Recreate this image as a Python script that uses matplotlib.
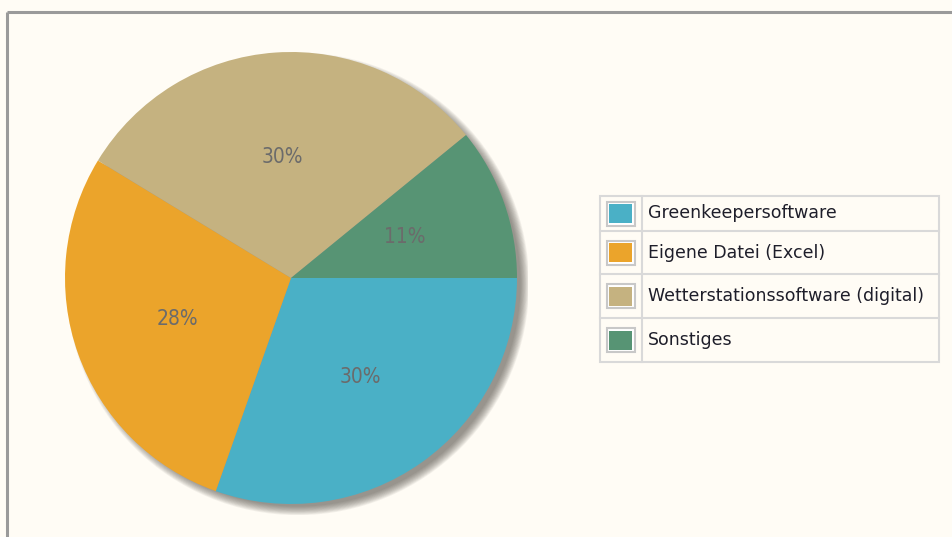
import matplotlib.pyplot as plt
from matplotlib.patches import Circle, Rectangle

labels = ['Greenkeepersoftware', 'Eigene Datei (Excel)',
          'Wetterstationssoftware (digital)', 'Sonstiges']
values = [30.4, 28.3, 30.4, 10.9]
colors = ['#4AB0C6', '#EBA42B', '#C5B280', '#579474']
bg = '#FFFCF5'

W, H = 953, 537
fig = plt.figure(figsize=(W / 100, H / 100), dpi=100)
fig.patch.set_facecolor(bg)

# overlay in pixel coords for the frame and legend
ov = fig.add_axes([0, 0, 1, 1])
ov.set_xlim(0, W)
ov.set_ylim(H, 0)
ov.axis('off')
ov.plot([7, W], [12, 12], color='#9A9A9A', lw=2.2, solid_capstyle='butt')
ov.plot([7, 7], [12, H], color='#9A9A9A', lw=2.2, solid_capstyle='butt')

# pie
cx, cy, r = 291, 278, 226
ax = fig.add_axes([(cx - r * 1.05) / W, (H - cy - r * 1.05) / H,
                   2.1 * r / W, 2.1 * r / H])
ax.axis('off')

# soft shadow at lower right
for i in range(12):
    ax.add_patch(Circle((0.03, -0.026), 0.985 + 0.0035 * i,
                        color='#55514A', alpha=0.07, lw=0, zorder=0))

wedges, texts, autotexts = ax.pie(
    values, colors=colors, startangle=0, counterclock=False,
    autopct='%.0f%%', pctdistance=0.535, radius=1.0,
    wedgeprops=dict(linewidth=0),
    textprops=dict(color='#6B6B6B', fontsize=15, fontstretch='condensed',
                   family='DejaVu Sans'))
for w in wedges:
    w.set_zorder(2)
for t in autotexts:
    t.set_zorder(3)
ax.set_xlim(-1.05, 1.05)
ax.set_ylim(-1.05, 1.05)

# legend table
lx0, lx1 = 600, 939
rows = [196, 231, 274, 318, 362]
sep_x = 642
lc = '#D9D9D9'
ov.add_patch(Rectangle((lx0, rows[0]), lx1 - lx0, rows[-1] - rows[0],
                       fill=False, ec=lc, lw=1.5))
for y in rows[1:-1]:
    ov.plot([lx0, lx1], [y, y], color=lc, lw=1.5)
ov.plot([sep_x, sep_x], [rows[0], rows[-1]], color=lc, lw=1.5)
for i, (lab, col) in enumerate(zip(labels, colors)):
    yc = (rows[i] + rows[i + 1]) / 2
    ov.add_patch(Rectangle((607, yc - 12), 28, 24, fc='white', ec='#C8C8C8', lw=1.5))
    ov.add_patch(Rectangle((609.5, yc - 9.5), 23, 19, fc=col, ec='none'))
    ov.text(648, yc, lab, fontsize=12.5, color='#1E1E2A',
            va='center', ha='left', family='DejaVu Sans')

fig.savefig('out.png', dpi=100, facecolor=bg)
